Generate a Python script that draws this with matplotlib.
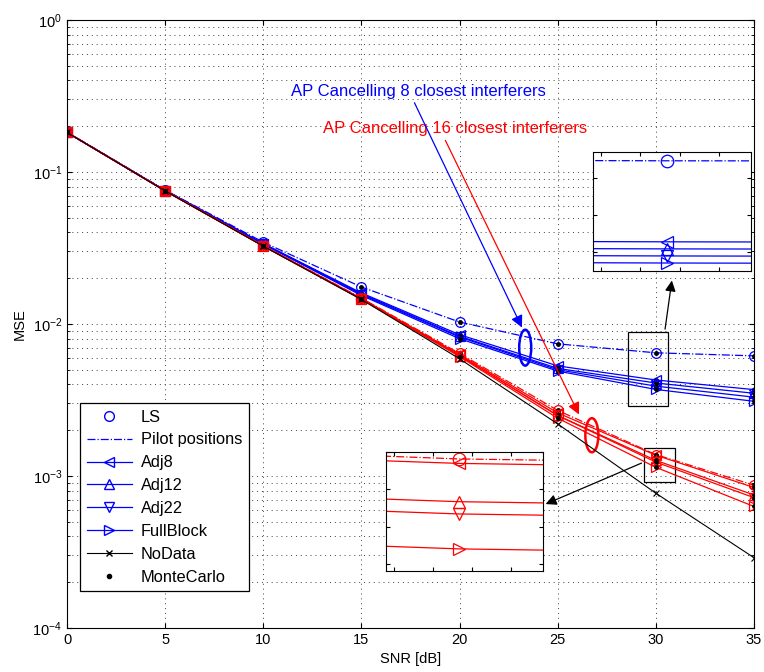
import numpy as np
import matplotlib
matplotlib.use('Agg')
import matplotlib.pyplot as plt
from matplotlib.lines import Line2D
from matplotlib.patches import Ellipse, Rectangle

plt.rcParams['font.family'] = ['Liberation Sans', 'DejaVu Sans']
plt.rcParams['mathtext.fontset'] = 'custom'
plt.rcParams['mathtext.rm'] = 'Liberation Sans'

# data
snr = [0, 5, 10, 15, 20, 25, 30, 35]

# 8 closest interferers cancelled (blue)
ls_8 = [0.183, 0.0760, 0.0345, 0.0175, 0.0103, 0.0074, 0.00646, 0.00617]
adj8_8 = [0.182, 0.0755, 0.0338, 0.0160, 0.0085, 0.0053, 0.00428, 0.0037]
adj12_8 = [0.182, 0.0755, 0.0337, 0.0158, 0.0083, 0.0051, 0.00409, 0.0035]
adj22_8 = [0.182, 0.0754, 0.0336, 0.0156, 0.0082, 0.0050, 0.00390, 0.0033]
full_8 = [0.182, 0.0754, 0.0335, 0.0154, 0.0080, 0.0049, 0.00371, 0.0031]

# 16 closest interferers cancelled (red)
ls_16 = [0.182, 0.0752, 0.0328, 0.0148, 0.0064, 0.0027, 0.001382, 0.00087]
adj8_16 = [0.182, 0.0752, 0.0327, 0.0147, 0.0063, 0.0026, 0.001370, 0.00084]
adj12_16 = [0.182, 0.0751, 0.0326, 0.0146, 0.0062, 0.0025, 0.001267, 0.00075]
adj22_16 = [0.182, 0.0751, 0.0326, 0.0146, 0.0062, 0.0025, 0.001234, 0.00072]
full_16 = [0.182, 0.0750, 0.0325, 0.0145, 0.0061, 0.0024, 0.001140, 0.00063]

nodata = [0.182, 0.0750, 0.0325, 0.0145, 0.0059, 0.0022, 0.00077, 0.00029]

blue_curves = [ls_8, adj8_8, adj12_8, adj22_8, full_8]
red_curves = [ls_16, adj8_16, adj12_16, adj22_16, full_16]
markers = ['o', '<', '^', 'v', '>']
styles = ['-.', '-', '-', '-', '-']

fig = plt.figure(figsize=(7.64, 6.72), dpi=100)
ax = fig.add_axes([0.0877, 0.0655, 0.8992, 0.9048])


def draw_curves(a, dots=True, lw=0.9, ms=7):
    for curves, col in [(blue_curves, 'b'), (red_curves, 'r')]:
        for vals, mk, ls in zip(curves, markers, styles):
            a.plot(snr, vals, color=col, ls=ls, lw=lw, marker=mk, ms=ms,
                   mfc='none', mec=col, mew=0.9)
            if dots:
                a.plot(snr, vals, 'k.', ms=5, ls='none')
    a.plot(snr, nodata, color='k', lw=0.8, marker='x', ms=5, mew=0.8)


draw_curves(ax)

ax.set_yscale('log')
ax.set_xlim(0, 35)
ax.set_ylim(1e-4, 1)
ax.set_xticks(range(0, 36, 5))
grid_ls = (0, (1, 4))
ax.grid(True, which='major', ls=grid_ls, color='0.25', lw=0.7)
ax.grid(True, which='minor', axis='y', ls=grid_ls, color='0.25', lw=0.7)
ax.tick_params(which='both', direction='in', top=True, right=True, labelsize=10.5)
ax.set_xlabel('SNR [dB]', fontsize=10.5, labelpad=4)
ax.set_ylabel('MSE', fontsize=10.5)

# zoom boxes and arrows
ax.add_patch(Rectangle((28.58, 0.00289), 2.02, 0.00886 - 0.00289, fill=False, ec='k', lw=0.9))
ax.add_patch(Rectangle((29.40, 0.000914), 1.57, 0.00153 - 0.000914, fill=False, ec='k', lw=0.9))
ax.annotate('', xy=(0.881, 0.576), xytext=(0.870, 0.487), xycoords='axes fraction',
            arrowprops=dict(arrowstyle='-|>', color='k', lw=0.9, mutation_scale=16))
ax.annotate('', xy=(0.693, 0.202), xytext=(0.840, 0.273), xycoords='axes fraction',
            arrowprops=dict(arrowstyle='-|>', color='k', lw=0.9, mutation_scale=16))

# annotations
ax.text(0.512, 0.883, 'AP Cancelling 8 closest interferers', color='b', fontsize=12,
        ha='center', va='center', transform=ax.transAxes)
ax.text(0.565, 0.822, 'AP Cancelling 16 closest interferers', color='r', fontsize=12,
        ha='center', va='center', transform=ax.transAxes)
ax.annotate('', xy=(0.664, 0.490), xytext=(0.504, 0.868), xycoords='axes fraction',
            arrowprops=dict(arrowstyle='-|>', color='b', lw=0.9, mutation_scale=18))
ax.annotate('', xy=(0.747, 0.347), xytext=(0.549, 0.806), xycoords='axes fraction',
            arrowprops=dict(arrowstyle='-|>', color='r', lw=0.9, mutation_scale=18))
ax.add_patch(Ellipse((0.667, 0.461), 0.0175, 0.059, transform=ax.transAxes,
                     fill=False, ec='b', lw=1.8))
ax.add_patch(Ellipse((0.764, 0.317), 0.019, 0.056, transform=ax.transAxes,
                     fill=False, ec='r', lw=1.8))

# legend
handles = [
    Line2D([], [], color='b', ls='none', marker='o', mfc='none', ms=7),
    Line2D([], [], color='b', ls='-.', lw=0.9),
    Line2D([], [], color='b', marker='<', mfc='none', ms=7, lw=0.9),
    Line2D([], [], color='b', marker='^', mfc='none', ms=7, lw=0.9),
    Line2D([], [], color='b', marker='v', mfc='none', ms=7, lw=0.9),
    Line2D([], [], color='b', marker='>', mfc='none', ms=7, lw=0.9),
    Line2D([], [], color='k', marker='x', ms=5, lw=0.8),
    Line2D([], [], color='k', marker='.', ls='none', ms=6),
]
labels = ['LS', 'Pilot positions', 'Adj8', 'Adj12', 'Adj22', 'FullBlock', 'NoData', 'MonteCarlo']
leg = ax.legend(handles, labels, loc='upper left', bbox_to_anchor=(0.0189, 0.370),
                fontsize=11.8, fancybox=False, edgecolor='k', framealpha=1,
                handlelength=2.8, handletextpad=0.5, labelspacing=0.48, borderpad=0.4,
                borderaxespad=0)
leg.get_frame().set_linewidth(0.9)

# insets
ins_b = fig.add_axes([0.776, 0.597, 0.207, 0.177])
ins_r = fig.add_axes([0.505, 0.150, 0.2055, 0.177])
for ins in (ins_b, ins_r):
    draw_curves(ins, dots=False, lw=0.9, ms=9)
    ins.set_xlim(29.972, 30.032)
    ins.set_xticks([29.975, 29.99, 30.005, 30.02])
    ins.tick_params(direction='in', top=True, right=True, labelbottom=False,
                    labelleft=False, length=3)
ins_b.set_ylim(0.0035, 0.0067)
ins_r.set_ylim(0.00108, 0.00140)

fig.savefig('out.png', dpi=100)
